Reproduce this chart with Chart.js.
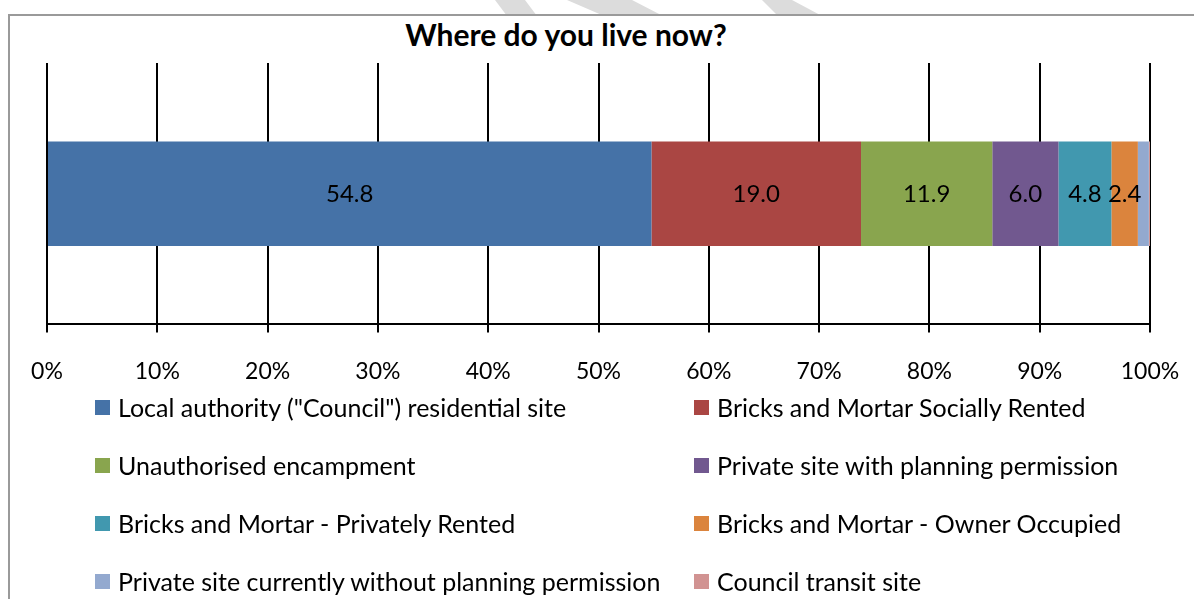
<!DOCTYPE html>
<html>
<head>
<meta charset="utf-8">
<title>Where do you live now?</title>
<script src="https://cdn.jsdelivr.net/npm/chart.js@4.4.1/dist/chart.umd.min.js"></script>
<style>
  body { margin: 0; width: 1194px; height: 599px; overflow: hidden; background: #fff; position: relative; font-family: Lato, "Open Sans", sans-serif; color: #000; }
  #mark { position: absolute; left: 0; top: 0; }
  #frame { position: absolute; left: 8px; top: 14px; width: 1200px; height: 620px; border: 2px solid #9a9a9a; background: #fff; }
  #title { position: absolute; left: 0; top: 16px; width: 1132px; text-align: center; font-weight: bold; font-size: 30px; line-height: 36px; }
  #plot { position: absolute; left: 0; top: 0; }
  #legend { position: absolute; left: 95px; top: 378px; display: grid; grid-template-columns: 599px 480px; grid-auto-rows: 58px; font-size: 25px; }
  #legend .item { display: flex; align-items: center; white-space: nowrap; }
  #legend .box { width: 15px; height: 15px; margin-right: 8px; flex: none; }
</style>
</head>
<body>
<!-- faint watermark bands peeking above the frame -->
<svg id="mark" width="1194" height="20">
  <polygon points="495,0 525,0 537,16 507,16" fill="#dcdcdc"/>
  <polygon points="567,0 632,0 663,16 604,16" fill="#dcdcdc"/>
  <polygon points="762,0 792,0 822,16 778,16" fill="#dcdcdc"/>
</svg>
<div id="frame"></div>
<div id="title">Where do you live now?</div>
<canvas id="plot" width="1194" height="419"></canvas>
<div id="legend"></div>

<script>
// one bar, split by where respondents live (percent)
const categories = ['Respondents'];
const seriesNames = [
  'Local authority ("Council") residential site',
  'Bricks and Mortar Socially Rented',
  'Unauthorised encampment',
  'Private site with planning permission',
  'Bricks and Mortar - Privately Rented',
  'Bricks and Mortar - Owner Occupied',
  'Private site currently without planning permission',
  'Council transit site'
];
const seriesValues = [54.8, 19.0, 11.9, 6.0, 4.8, 2.4, 1.0, 0.1];
const seriesColors = ['#4572A7', '#AA4643', '#89A54E', '#71588F', '#4198AF', '#DB843D', '#93A9CF', '#D19392'];
const xTicks = [0, 10, 20, 30, 40, 50, 60, 70, 80, 90, 100];

const FONT = 'Lato';

// value labels in the middle of each segment (small slivers left blank)
const segmentLabels = {
  id: 'segmentLabels',
  afterDatasetsDraw(chart) {
    const ctx = chart.ctx;
    ctx.save();
    ctx.font = '24px ' + FONT;
    ctx.fillStyle = '#000';
    ctx.textAlign = 'center';
    ctx.textBaseline = 'middle';
    chart.data.datasets.forEach((ds, i) => {
      const v = ds.data[0];
      if (v < 2) return;
      const bar = chart.getDatasetMeta(i).data[0];
      const c = bar.getCenterPoint();
      ctx.fillText(v.toFixed(1), c.x, c.y + 1);
    });
    ctx.restore();
  }
};

const _plot = document.getElementById('plot');

const chart = new Chart(_plot, {
  type: 'bar',
  data: {
    labels: categories,
    datasets: seriesNames.map((name, i) => ({
      label: name,
      data: [seriesValues[i]],
      backgroundColor: seriesColors[i],
      borderWidth: 0,
      barPercentage: 0.4,
      categoryPercentage: 1
    }))
  },
  options: {
    indexAxis: 'y',
    responsive: false,
    animation: false,
    layout: { padding: { left: 47, right: 44, top: 63, bottom: 9 } },
    plugins: {
      legend: { display: false },
      title: { display: false },
      tooltip: { enabled: false }
    },
    scales: {
      x: {
        stacked: true,
        min: 0,
        max: 100,
        afterBuildTicks: (scale) => { scale.ticks = xTicks.map(v => ({ value: v })); },
        // the layout padding already leaves room for the end labels
        afterFit: (scale) => { scale.paddingLeft = 0; scale.paddingRight = 0; },
        ticks: {
          callback: (v) => v + '%',
          color: '#000',
          font: { family: FONT, size: 23 },
          padding: 25,
          maxRotation: 0
        },
        grid: { color: '#000', lineWidth: 2, tickLength: 8, drawOnChartArea: true },
        border: { display: true, color: '#000', width: 2 }
      },
      y: {
        stacked: true,
        display: false
      }
    }
  },
  plugins: [segmentLabels]
});

// legend in two columns, built from the chart's datasets
const legendEl = document.getElementById('legend');
chart.data.datasets.forEach(ds => {
  const item = document.createElement('div');
  item.className = 'item';
  const box = document.createElement('span');
  box.className = 'box';
  box.style.background = ds.backgroundColor;
  const txt = document.createElement('span');
  txt.textContent = ds.label;
  item.appendChild(box);
  item.appendChild(txt);
  legendEl.appendChild(item);
});
</script>
</body>
</html>
